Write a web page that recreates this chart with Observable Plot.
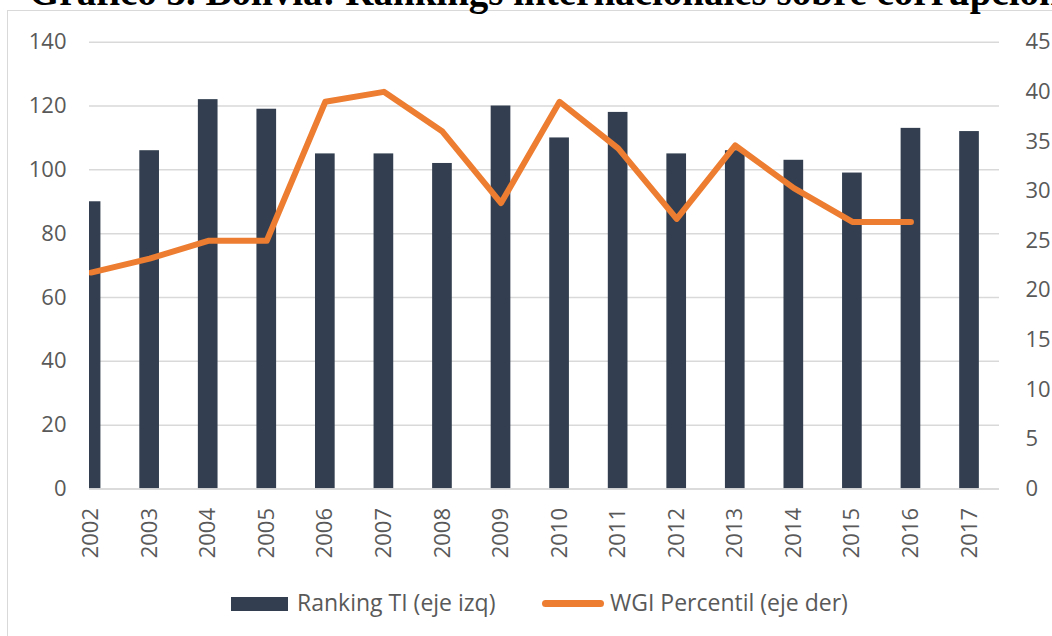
<!DOCTYPE html>
<html>
<head>
<meta charset="utf-8">
<script src="https://cdn.jsdelivr.net/npm/d3@7"></script>
<script src="https://cdn.jsdelivr.net/npm/@observablehq/plot@0.6"></script>
<style>
  html, body { margin: 0; padding: 0; background: #fff; overflow: hidden; }
  #wrap { position: relative; width: 1052px; height: 636px; overflow: hidden; }
  #frame { position: absolute; left: 7px; top: 10px; width: 1100px; height: 700px;
           border: 1.5px solid #d9d9d9; box-sizing: border-box; }
  #title { position: absolute; left: 29px; top: -27.7px; white-space: nowrap;
           font-family: "Liberation Serif", serif; font-weight: bold; font-size: 39px;
           line-height: 1; color: #000; }
  #chart { position: absolute; left: 0; top: 0; }
  .leg { position: absolute; font-family: "Open Sans", sans-serif; font-size: 23px;
         line-height: 1; color: #595959; white-space: nowrap; }
</style>
</head>
<body>
<div id="wrap">
  <div id="frame"></div>
  <div id="title">Gráfico 3. Bolivia: Rankings internacionales sobre corrupción</div>
  <div id="chart"></div>
  <div style="position:absolute;left:231px;top:597px;width:57px;height:14px;background:#333f50"></div>
  <div class="leg" style="left:297px;top:591px">Ranking TI (eje izq)</div>
  <div style="position:absolute;left:542px;top:600px;width:62px;height:6.5px;border-radius:3.5px;background:#ED7D31"></div>
  <div class="leg" style="left:610px;top:591px">WGI Percentil (eje der)</div>
</div>
<script>
const years = [2002,2003,2004,2005,2006,2007,2008,2009,2010,2011,2012,2013,2014,2015,2016,2017];
const rankingTI = [90,106,122,119,105,105,102,120,110,118,105,106,103,99,113,112];
const wgiYears = [2002,2003,2004,2005,2006,2007,2008,2009,2010,2011,2012,2013,2014,2015,2016];
const wgiPercentil = [21.8,23.2,25,25,39,40,36,28.8,39,34.3,27.2,34.6,30.3,26.9,26.9];
const leftTicks = [0,20,40,60,80,100,120,140];
const rightTicks = [0,5,10,15,20,25,30,35,40,45];

const leftMax = 140, rightMax = 45;
const k = leftMax / rightMax;
const barHalf = 0.168;

const bars = years.map((y, i) => ({year: y, ti: rankingTI[i]}));
const line = wgiYears.map((y, i) => ({year: y, wgi: wgiPercentil[i]}));

const chart = Plot.plot({
  width: 1052,
  height: 636,
  marginLeft: 89,
  marginRight: 53,
  marginTop: 41.7,
  marginBottom: 147.5,
  style: {fontFamily: "Open Sans, sans-serif", fontSize: "22px", color: "#595959", background: "transparent", overflow: "visible"},
  x: {type: "linear", domain: [2001.973, 2017.512]},
  y: {domain: [0, leftMax]},
  marks: [
    Plot.gridY(leftTicks, {stroke: "#d9d9d9", strokeOpacity: 1, strokeWidth: 1.5}),
    Plot.rectY(bars, {x1: d => d.year - barHalf, x2: d => d.year + barHalf, y: "ti", fill: "#333f50", clip: true}),
    Plot.ruleY([0], {stroke: "#d9d9d9", strokeWidth: 1.5}),
    Plot.lineY(line, {x: "year", y: d => d.wgi * k, stroke: "#ED7D31", strokeWidth: 6,
                      strokeLinejoin: "round", strokeLinecap: "round", clip: true}),
    Plot.axisY({ticks: leftTicks, tickSize: 0, tickPadding: 23, label: null, fill: "#595959", fontSize: 22}),
    Plot.axisY({anchor: "right", ticks: rightTicks.map(v => v * k), tickFormat: d => String(Math.round(d / k)),
                tickSize: 0, tickPadding: 26, label: null, fill: "#595959", fontSize: 22}),
    Plot.axisX({ticks: years, tickFormat: d => String(d), tickRotate: -90, tickSize: 0, tickPadding: 19,
                label: null, fill: "#595959", fontSize: 22})
  ]
});
document.getElementById("chart").appendChild(chart);
</script>
</body>
</html>
